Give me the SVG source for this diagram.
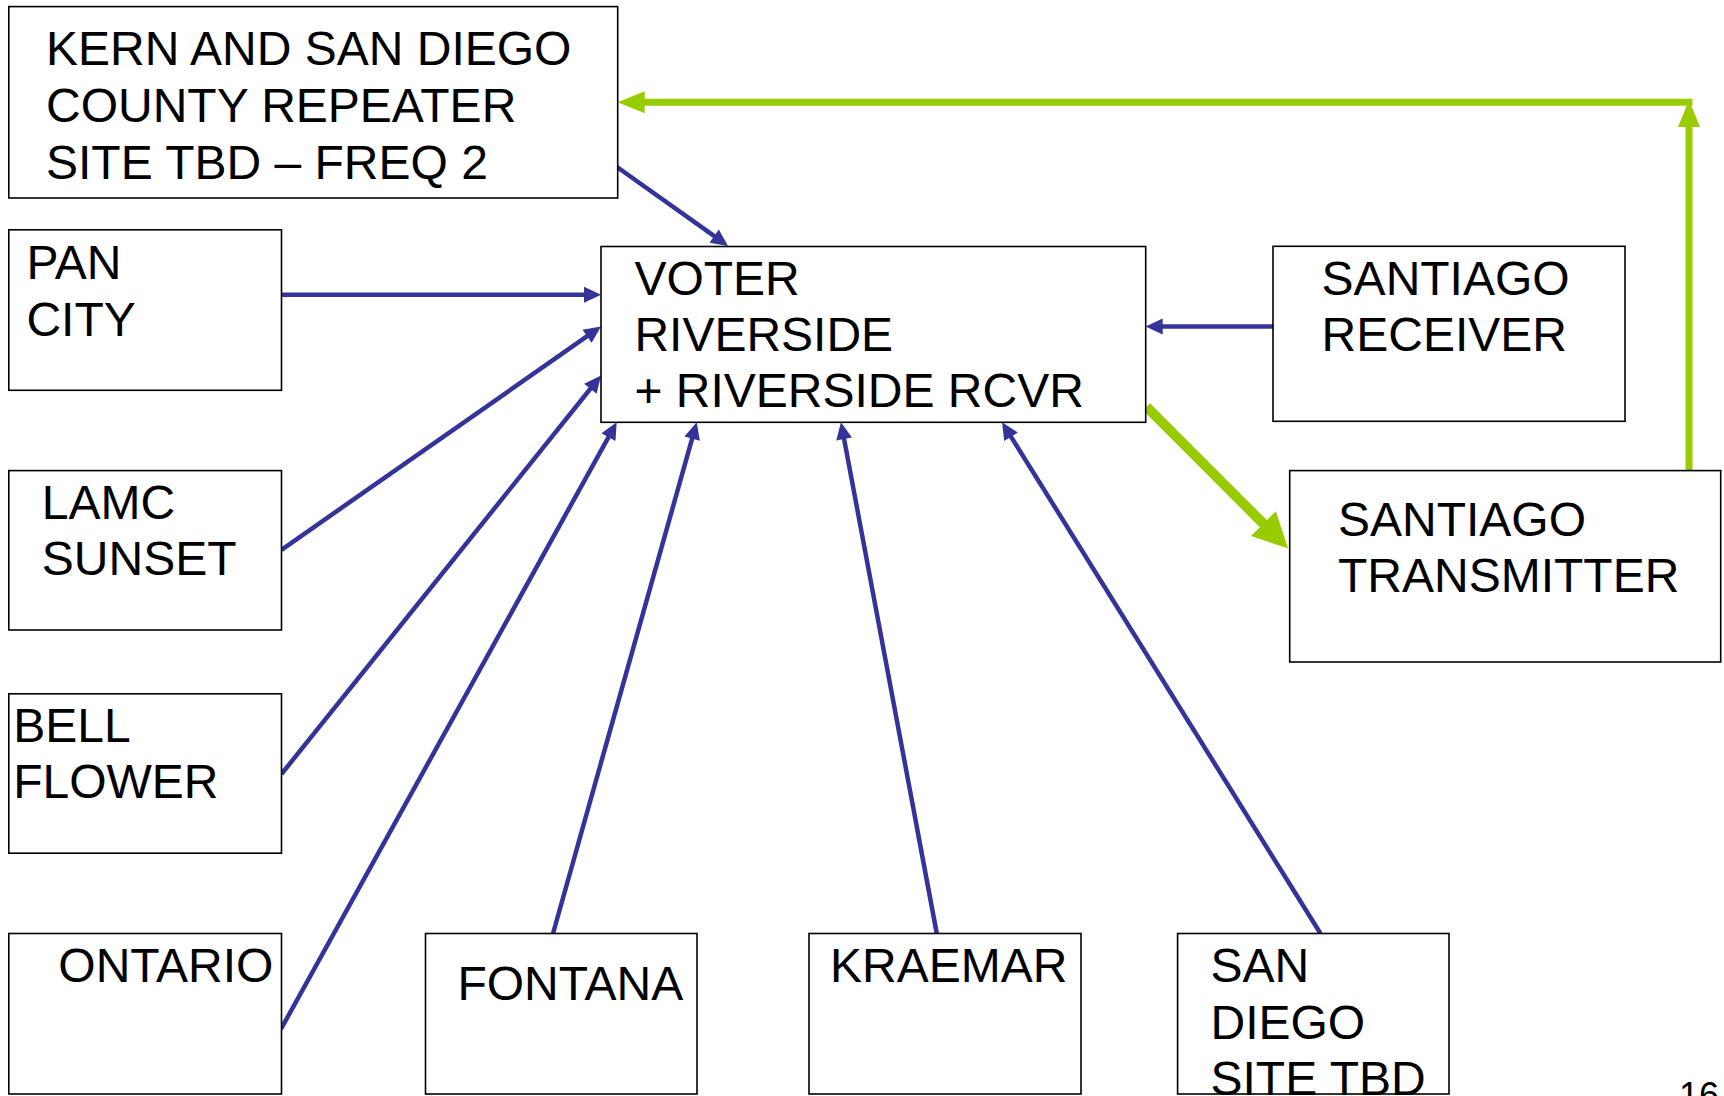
<svg xmlns="http://www.w3.org/2000/svg" width="1724" height="1096" viewBox="0 0 1724 1096">
<style>
.box{fill:#fff;stroke:#000;stroke-width:1.6}
text{font-family:"Liberation Sans",Arial,sans-serif;font-size:48px;fill:#000}
.blue{stroke:#333399;stroke-width:4.5;fill:none;marker-end:url(#ab)}
.g1{stroke:#99CC00;stroke-width:7;fill:none;marker-end:url(#ag)}
.g2{stroke:#99CC00;stroke-width:10;fill:none;marker-end:url(#agb)}
</style>
<defs>
<marker id="ab" markerUnits="userSpaceOnUse" markerWidth="16" markerHeight="16" refX="0" refY="8" orient="auto" overflow="visible"><path d="M-1,0 L16,8 L-1,16 z" fill="#333399"/></marker>
<marker id="ag" markerUnits="userSpaceOnUse" markerWidth="26" markerHeight="22" refX="0" refY="11" orient="auto" overflow="visible"><path d="M-1,0 L26,11 L-1,22 z" fill="#99CC00"/></marker>
<marker id="agb" markerUnits="userSpaceOnUse" markerWidth="34" markerHeight="35" refX="0" refY="17.5" orient="auto" overflow="visible"><path d="M-1,0 L34,17.5 L-1,35 z" fill="#99CC00"/></marker>
</defs>
<rect width="1724" height="1096" fill="#fff"/>
<g id="connectors">
<line class="blue" x1="617" y1="167" x2="715" y2="236.7"/>
<line class="blue" x1="281.5" y1="294.7" x2="585" y2="294.7"/>
<line class="blue" x1="281.5" y1="549.8" x2="587.9" y2="335.7"/>
<line class="blue" x1="281.5" y1="774" x2="591" y2="388"/>
<line class="blue" x1="281" y1="1029" x2="608.95" y2="436.3"/>
<line class="blue" x1="553" y1="933.5" x2="692.4" y2="437.7"/>
<line class="blue" x1="936.8" y1="933.5" x2="843.9" y2="438"/>
<line class="blue" x1="1320.5" y1="933.5" x2="1010.5" y2="435.9"/>
<line class="blue" x1="1273" y1="326.5" x2="1161.7" y2="326.5"/>
<line class="g2" x1="1146.5" y1="406.7" x2="1264.1" y2="524.4"/>
<line class="g1" x1="1689" y1="470.6" x2="1689" y2="126"/>
<line class="g1" x1="1692.5" y1="102.3" x2="643.7" y2="102.3"/>
</g>
<g id="kern"><rect class="box" x="8.8" y="6.6" width="608.9" height="191.4"/><text x="46" y="65">KERN AND SAN DIEGO</text><text x="46" y="122">COUNTY REPEATER</text><text x="46" y="179">SITE TBD – FREQ 2</text></g>
<g id="pancity"><rect class="box" x="8.8" y="229.8" width="272.7" height="160.5"/><text x="26.4" y="279">PAN</text><text x="26.4" y="336">CITY</text></g>
<g id="voter"><rect class="box" x="601" y="246.5" width="544.7" height="175.8"/><text x="634.4" y="295">VOTER</text><text x="634.4" y="351">RIVERSIDE</text><text x="634.4" y="407">+ RIVERSIDE RCVR</text></g>
<g id="receiver"><rect class="box" x="1273" y="246.3" width="352" height="175"/><text x="1321.6" y="295">SANTIAGO</text><text x="1321.6" y="351">RECEIVER</text></g>
<g id="lamc"><rect class="box" x="8.8" y="470.6" width="272.7" height="159.4"/><text x="41.8" y="519">LAMC</text><text x="41.8" y="575">SUNSET</text></g>
<g id="transmitter"><rect class="box" x="1289.7" y="470.6" width="431" height="191.4"/><text x="1338" y="535.5">SANTIAGO</text><text x="1338" y="591.6">TRANSMITTER</text></g>
<g id="bellflower"><rect class="box" x="8.8" y="693.8" width="272.7" height="159.4"/><text x="13.2" y="742">BELL</text><text x="13.2" y="798">FLOWER</text></g>
<g id="ontario"><rect class="box" x="8.8" y="933.5" width="272.7" height="160.5"/><text x="58.3" y="982">ONTARIO</text></g>
<g id="fontana"><rect class="box" x="425.5" y="933.5" width="271.5" height="160.5"/><text x="457.4" y="999.5">FONTANA</text></g>
<g id="kraemar"><rect class="box" x="809" y="933.5" width="272" height="160.5"/><text x="830" y="982">KRAEMAR</text></g>
<g id="sandiego"><rect class="box" x="1177.6" y="933.5" width="271.4" height="160.5"/><text x="1210.5" y="982">SAN</text><text x="1210.5" y="1039">DIEGO</text><text x="1210.5" y="1095">SITE TBD</text></g>
<text x="1679" y="1108" style="font-size:36px">16</text>
</svg>
